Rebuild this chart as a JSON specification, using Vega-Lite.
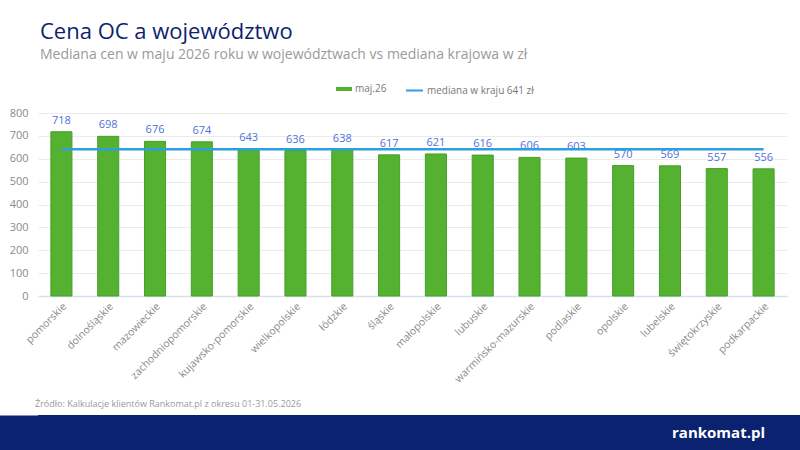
{
  "$schema": "https://vega.github.io/schema/vega-lite/v6.json",
  "background": "white",
  "padding": {"top": 21, "left": 0, "right": 0, "bottom": 0},
  "spacing": 15,
  "config": {
    "font": "Open Sans",
    "view": {"stroke": null}
  },
  "vconcat": [
    {
      "width": 749,
      "height": 183,
      "title": {
        "text": "Cena OC a województwo",
        "subtitle": "Mediana cen w maju 2026 roku w województwach vs mediana krajowa w zł",
        "anchor": "start",
        "frame": "group",
        "font": "Open Sans",
        "subtitleFont": "Open Sans",
        "fontSize": 22,
        "fontWeight": "normal",
        "color": "#0d1f6e",
        "subtitleFontSize": 14,
        "subtitleColor": "#9a9a9a",
        "subtitlePadding": 4,
        "offset": 44,
        "dx": 2
      },
      "data": {
        "values": [
          {"woj": "pomorskie", "cena": 718, "mediana": 641},
          {"woj": "dolnośląskie", "cena": 698, "mediana": 641},
          {"woj": "mazowieckie", "cena": 676, "mediana": 641},
          {"woj": "zachodniopomorskie", "cena": 674, "mediana": 641},
          {"woj": "kujawsko-pomorskie", "cena": 643, "mediana": 641},
          {"woj": "wielkopolskie", "cena": 636, "mediana": 641},
          {"woj": "łódzkie", "cena": 638, "mediana": 641},
          {"woj": "śląskie", "cena": 617, "mediana": 641},
          {"woj": "małopolskie", "cena": 621, "mediana": 641},
          {"woj": "lubuskie", "cena": 616, "mediana": 641},
          {"woj": "warmińsko-mazurskie", "cena": 606, "mediana": 641},
          {"woj": "podlaskie", "cena": 603, "mediana": 641},
          {"woj": "opolskie", "cena": 570, "mediana": 641},
          {"woj": "lubelskie", "cena": 569, "mediana": 641},
          {"woj": "świętokrzyskie", "cena": 557, "mediana": 641},
          {"woj": "podkarpackie", "cena": 556, "mediana": 641}
        ]
      },
      "encoding": {
        "x": {
          "field": "woj",
          "type": "nominal",
          "sort": null,
          "scale": {"paddingInner": 0.55, "paddingOuter": 0.275},
          "axis": {
            "title": null,
            "labelAngle": -45,
            "labelColor": "#8a8a8a",
            "labelFontSize": 10.5,
            "labelPadding": 5,
            "ticks": false,
            "domainColor": "#d6e0f0",
            "domainWidth": 1.5,
            "grid": false
          }
        },
        "y": {
          "field": "cena",
          "type": "quantitative",
          "scale": {"domain": [0, 800]},
          "axis": {
            "title": null,
            "values": [0, 100, 200, 300, 400, 500, 600, 700, 800],
            "labelOverlap": false,
            "domain": false,
            "ticks": false,
            "labelColor": "#8a8a8a",
            "labelFontSize": 11,
            "labelPadding": 10,
            "gridColor": "#ebebeb",
            "minExtent": 38,
            "maxExtent": 38
          }
        }
      },
      "layer": [
        {
          "mark": {"type": "bar", "stroke": "#46a028", "strokeWidth": 1},
          "encoding": {
            "fill": {
              "datum": "maj.26",
              "type": "nominal",
              "scale": {"domain": ["maj.26"], "range": ["#55b130"]},
              "legend": {
                "orient": "none",
                "legendX": 298,
                "legendY": -32,
                "title": null,
                "direction": "horizontal",
                "labelFontSize": 10,
                "labelColor": "#777777",
                "labelOffset": 3,
                "symbolType": "M-1,-0.25H1V0.25H-1Z",
                "symbolSize": 256,
                "symbolStrokeWidth": 0
              }
            }
          }
        },
        {
          "mark": {"type": "text", "dy": -6, "baseline": "bottom", "color": "#4f72d9", "fontSize": 11},
          "encoding": {
            "text": {"field": "cena", "type": "quantitative"}
          }
        },
        {
          "mark": {"type": "line", "strokeWidth": 2.5},
          "encoding": {
            "y": {"field": "mediana", "type": "quantitative"},
            "stroke": {
              "datum": "mediana w kraju 641 zł",
              "type": "nominal",
              "scale": {"domain": ["mediana w kraju 641 zł"], "range": ["#2aa0e0"]},
              "legend": {
                "orient": "none",
                "legendX": 367,
                "legendY": -32,
                "title": null,
                "direction": "horizontal",
                "labelFontSize": 10,
                "labelColor": "#777777",
                "labelOffset": 3,
                "symbolType": "stroke",
                "symbolSize": 289,
                "symbolStrokeWidth": 2
              }
            }
          }
        }
      ]
    },
    {
      "width": 762,
      "height": 35,
      "view": {"fill": "#0b2270", "stroke": null},
      "title": {
        "text": "Źródło: Kalkulacje klientów Rankomat.pl z okresu 01-31.05.2026",
        "anchor": "start",
        "frame": "group",
        "fontSize": 9,
        "fontWeight": "normal",
        "color": "#9a9a9a",
        "dx": -3,
        "offset": 6
      },
      "data": {"values": [{"logo": "rankomat.pl"}]},
      "mark": {"type": "text", "align": "right", "baseline": "middle", "dx": 346, "color": "white", "fontSize": 15, "fontWeight": "bold"},
      "encoding": {
        "text": {"field": "logo", "type": "nominal"},
        "y": {
          "field": "logo",
          "type": "nominal",
          "axis": {
            "title": null,
            "labels": false,
            "ticks": false,
            "grid": false,
            "domain": true,
            "domainColor": "#0b2270",
            "domainWidth": 77,
            "domainCap": "butt",
            "minExtent": 38,
            "maxExtent": 38
          }
        }
      }
    }
  ]
}
